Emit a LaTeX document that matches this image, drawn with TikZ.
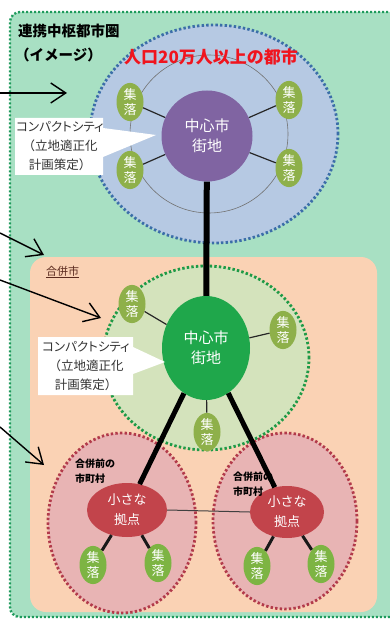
\documentclass[tikz,border=0pt]{standalone}
\usepackage{fontspec}
\newfontfamily\jp{Noto Sans CJK JP}
\newfontfamily\jpp[RawFeature=+palt]{Noto Sans CJK JP}
\usetikzlibrary{shapes.geometric,arrows.meta}
\definecolor{outerfill}{HTML}{A8E0C3}
\definecolor{outerdot}{HTML}{1E9A5C}
\definecolor{bluefill}{HTML}{B6C9E3}
\definecolor{bluedot}{HTML}{3B6EA8}
\definecolor{purplec}{HTML}{8064A2}
\definecolor{peach}{HTML}{FAD2B4}
\definecolor{greenfill}{HTML}{D4E3BC}
\definecolor{greendot}{HTML}{1E9A46}
\definecolor{greenc}{HTML}{1FA74B}
\definecolor{redfill}{HTML}{E8B4B4}
\definecolor{reddot}{HTML}{B23A4A}
\definecolor{hubc}{HTML}{C2444B}
\definecolor{villA}{HTML}{8EB04A}
\definecolor{villB}{HTML}{7DB443}
\definecolor{brownt}{HTML}{5A2A1E}
\definecolor{redt}{HTML}{F0141E}
\tikzset{
  dotline/.style={dash pattern=on 2.4pt off 2.2pt, line cap=butt},
  zone/.style={ellipse, inner sep=0pt, dotline, line width=2.8pt},
  vill/.style={ellipse, inner sep=0pt, minimum width=27pt, minimum height=38pt,
    text=white, align=center, font=\jp\fontsize{13}{15}\selectfont},
  spoke/.style={line width=1.2pt, draw=black!85},
  trunk/.style={line width=6pt, draw=black},
  branch/.style={line width=3pt, draw=black!90},
  pointer/.style={line width=1.4pt, -{Straight Barb[length=15pt,width=20pt,line width=1.4pt]}},
  callout/.style={fill=white},
  callouttext/.style={align=center, text=black!80, font=\jp\fontsize{12.5}{19}\selectfont},
  townlab/.style={anchor=north west, align=left, inner sep=0pt, font=\jp\bfseries\fontsize{10}{15}\selectfont}
}
\begin{document}
\begin{tikzpicture}[x=1pt,y=-1pt]
\useasboundingbox (0,0) rectangle (390,620);
\clip (0,0) rectangle (390,620);
\fill[white] (0,0) rectangle (390,620);
% outer region
\node[draw=outerdot, fill=outerfill, dash pattern=on 2pt off 2pt, line width=2.4pt, rounded corners=10pt,
  minimum width=400pt, minimum height=605pt, inner sep=0pt] (outer) at (210,314.5) {};
% blue zone
\node[zone, draw=bluedot, fill=bluefill, minimum width=248pt, minimum height=218pt] (bluezone) at (214,134) {};
\node[circle, draw=black!55, line width=0.6pt, minimum size=158pt, inner sep=0pt] (ring) at (209,134) {};
% peach region
\node[fill=peach, rounded corners=16pt, minimum width=347pt, minimum height=355pt, inner sep=0pt] (merged) at (203.5,434.5) {};
\node[anchor=west, text=brownt, font=\jp\fontsize{11}{11}\selectfont, inner sep=0pt] (mergedlab) at (46,272) {\underline{合併市}};
% red zones
\node[zone, draw=reddot, fill=redfill, minimum width=148pt, minimum height=180pt] (townL) at (122,523) {};
\node[zone, draw=reddot, fill=redfill, minimum width=144pt, minimum height=176pt] (townR) at (285,521) {};
% green zone
\node[zone, draw=greendot, fill=greenfill, minimum width=206pt, minimum height=184pt] (greenzone) at (206,358) {};
% titles
\node[anchor=west, inner sep=0pt, font=\jp\bfseries\fontsize{14.5}{14.5}\selectfont] (title1) at (18,31) {連携中枢都市圏};
\node[anchor=west, inner sep=0pt, font=\jp\bfseries\fontsize{14.5}{14.5}\selectfont] (title2) at (15,55) {（イメージ）};
\node[inner sep=0pt, text=redt, font=\jp\bfseries\fontsize{17}{17}\selectfont] (pop) at (211,57) {人口20万人以上の都市};
% core city
\node[circle, fill=purplec, minimum size=91pt, inner sep=0pt, text=white, align=center,
  font=\jp\fontsize{15}{20}\selectfont] (core1) at (207,136) {中心市\\街地};
\node[vill, fill=villA] (s1) at (130,102) {集\\落};
\node[vill, fill=villA] (s2) at (289,100) {集\\落};
\node[vill, fill=villA] (s3) at (130,170) {集\\落};
\node[vill, fill=villA] (s4) at (289,168) {集\\落};
\draw[spoke] (core1) -- (s1);
\draw[spoke] (core1) -- (s2);
\draw[spoke] (core1) -- (s3);
\draw[spoke] (core1) -- (s4);
% merged core
\node[ellipse, fill=greenc, minimum width=88pt, minimum height=104pt, inner sep=0pt, text=white, align=center,
  font=\jp\fontsize{15}{20}\selectfont] (core2) at (206,348) {中心市\\街地};
\node[vill, fill=villA] (g1) at (132,304) {集\\落};
\node[vill, fill=villA] (g2) at (283,330) {集\\落};
\node[vill, fill=villA] (g3) at (207,432) {集\\落};
\draw[spoke] (core2) -- (g1);
\draw[spoke] (core2) -- (g2);
\draw[spoke] (core2) -- (g3);
\draw[trunk] (core1) -- (core2);
% small hubs
\node[ellipse, fill=hubc, minimum width=80pt, minimum height=54pt, inner sep=0pt, text=white, align=center,
  font=\jp\fontsize{13}{20}\selectfont] (hubL) at (127,510) {小さな\\拠点};
\node[ellipse, fill=hubc, minimum width=74pt, minimum height=52pt, inner sep=0pt, text=white, align=center,
  font=\jp\fontsize{13}{20}\selectfont] (hubR) at (287,512) {小さな\\拠点};
\draw[trunk, line width=5pt] (core2) -- (hubL);
\draw[trunk, line width=5pt] (core2) -- (hubR);
\draw[line width=1pt, draw=black!75] (hubL.east) -- (hubR.west);
\node[vill, fill=villB] (b1) at (93,565) {集\\落};
\node[vill, fill=villB] (b2) at (158,563) {集\\落};
\node[vill, fill=villB] (b3) at (257,566) {集\\落};
\node[vill, fill=villB] (b4) at (321,564) {集\\落};
\draw[branch] (hubL) -- (b1);
\draw[branch] (hubL) -- (b2);
\draw[branch] (hubR) -- (b3);
\draw[branch] (hubR) -- (b4);
\node[townlab] (labL) at (75,459) {合併前の\\市町村};
\node[townlab] (labR) at (233,472) {合併前の\\市町村};
% callouts
\path[callout] (15,118) -- (103,118) -- (103,128) -- (156,135) -- (103,157) -- (103,175) -- (15,175) -- cycle;
\node[callouttext] (c1) at (60,146) {{\jpp コンパクトシティ}\\（立地適正化\\計画策定）};
\path[callout] (38,337) -- (133,337) -- (133,347) -- (165,362) -- (133,374) -- (133,395) -- (38,395) -- cycle;
\node[callouttext] (c2) at (86,366) {{\jpp コンパクトシティ}\\（立地適正化\\計画策定）};
% arrows from outside
\coordinate (a1s) at (0,93);
\coordinate (a1e) at (67,93);
\coordinate (a2s) at (0,233);
\coordinate (a2e) at (44,255);
\coordinate (a3s) at (0,280);
\coordinate (a3e) at (101,318);
\coordinate (a4s) at (0,427);
\coordinate (a4e) at (44,465);
\draw[pointer] (a1s) -- (a1e);
\draw[pointer] (a2s) -- (a2e);
\draw[pointer] (a3s) -- (a3e);
\draw[pointer] (a4s) -- (a4e);
\end{tikzpicture}
\end{document}
